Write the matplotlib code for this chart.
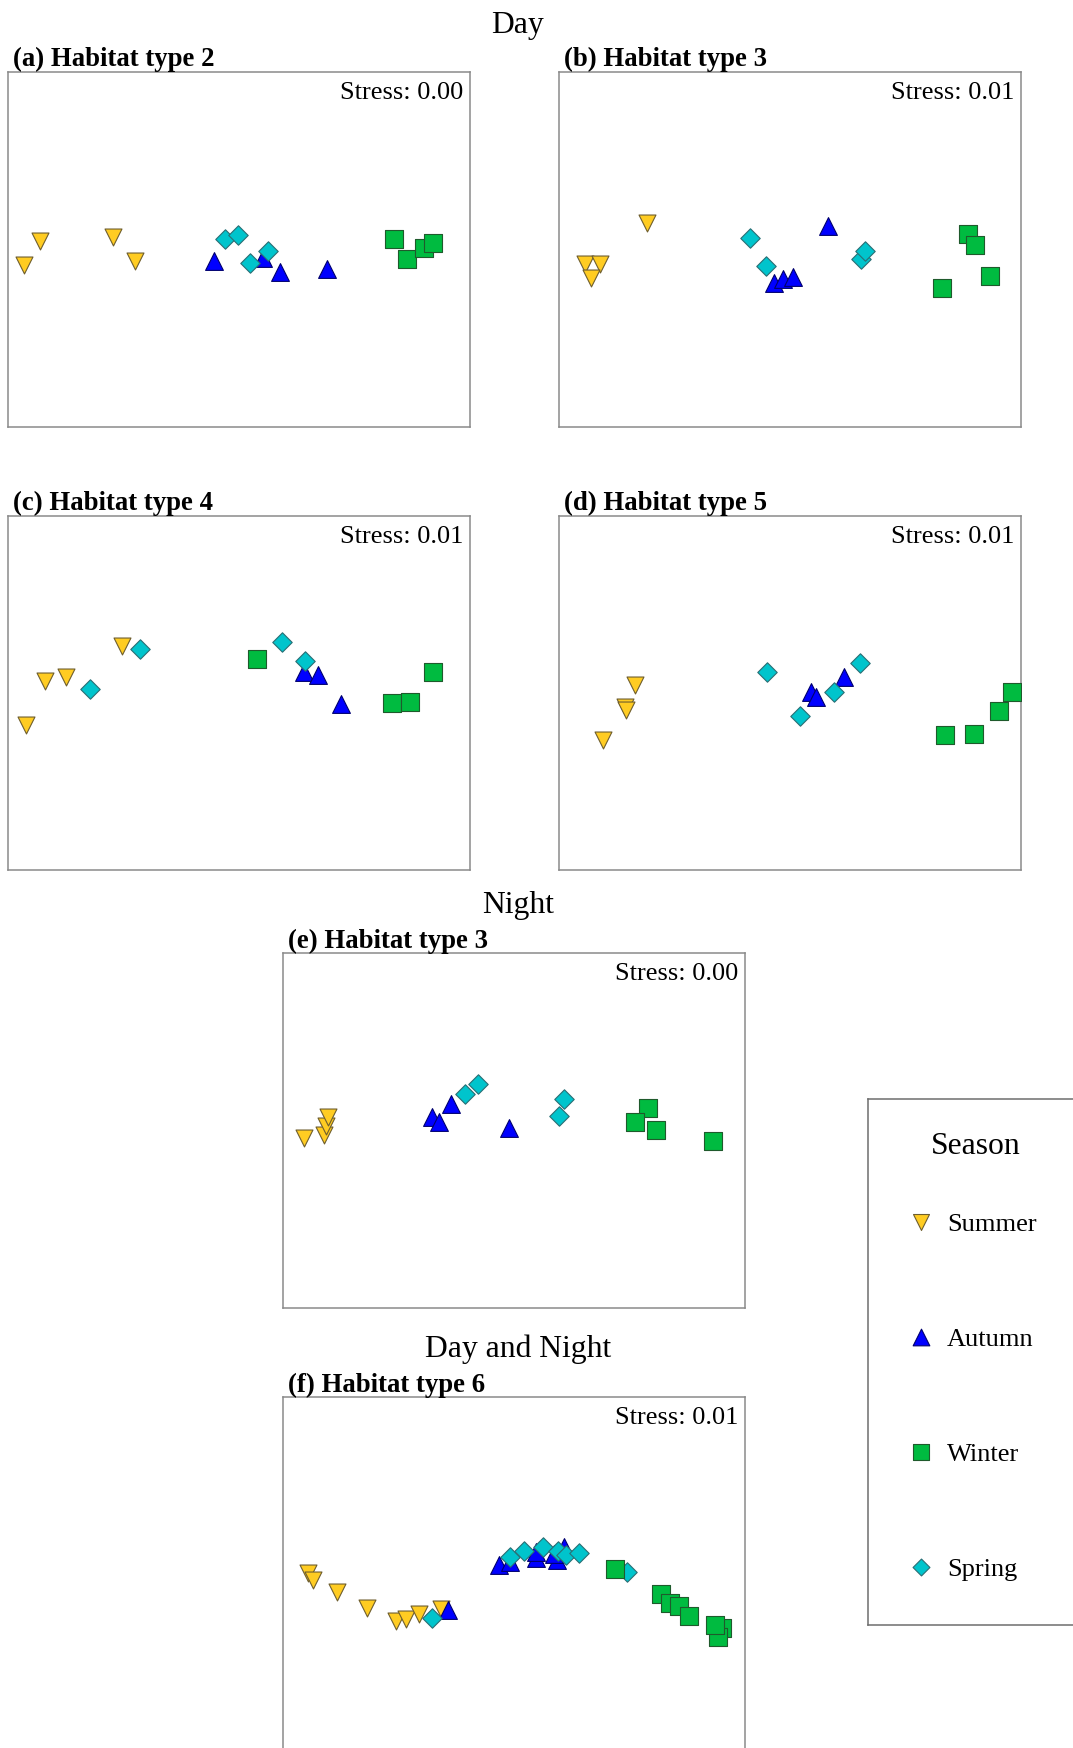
import matplotlib
matplotlib.use("Agg")
import matplotlib.pyplot as plt

plt.rcParams['font.family'] = ['Liberation Serif', 'DejaVu Serif']

W, H = 1073, 1748  # figure size in pixels (dpi 100)

seasons = ["Summer", "Autumn", "Winter", "Spring"]
draw_order = ["Summer", "Autumn", "Spring", "Winter"]
marker = {"Summer": "v", "Autumn": "^", "Winter": "s", "Spring": "D"}
face = {"Summer": "#FFCC22", "Autumn": "#0000FF", "Winter": "#00BB40", "Spring": "#00C4CC"}
edge = {"Summer": "#6E5E2E", "Autumn": "#00006E", "Winter": "#1F5A2C", "Spring": "#2A6E74"}
msize = {"Summer": 12.2, "Autumn": 12.8, "Winter": 13.0, "Spring": 9.9}

# 2-D NMDS coordinates (x list, y list) for each panel and season
a_summer = ([-1.723, -1.859, -1.094, -0.898], [0.074, -0.137, 0.111, -0.097])
a_autumn = ([-0.214, 0.210, 0.352, 0.762], [-0.102, -0.076, -0.195, -0.169])
a_spring = ([-0.121, -0.011, 0.093, 0.251], [0.088, 0.126, -0.114, -0.013])
a_winter = ([1.342, 1.452, 1.602, 1.682], [0.088, -0.082, 0.010, 0.054])

b_summer = ([-1.241, -1.775, -1.645, -1.723], [0.229, -0.126, -0.126, -0.244])
b_autumn = ([0.326, -0.136, -0.063, 0.026], [0.206, -0.287, -0.258, -0.235])
b_spring = ([-0.346, -0.210, 0.612, 0.649], [0.097, -0.140, -0.085, -0.010])
b_winter = ([1.544, 1.602, 1.732, 1.313], [0.132, 0.036, -0.227, -0.336])

c_summer = ([-1.016, -1.682, -1.498, -1.842], [0.407, 0.104, 0.141, -0.277])
c_autumn = ([0.563, 0.687, 0.881], [0.184, 0.156, -0.095])
c_spring = ([-0.855, -1.290, 0.372, 0.569], [0.381, 0.035, 0.442, 0.280])
c_winter = ([0.153, 1.325, 1.478, 1.682], [0.292, -0.089, -0.075, 0.184])

d_summer = ([-1.339, -1.431, -1.417, -1.616], [0.067, -0.121, -0.145, -0.407])
d_autumn = ([0.184, 0.225, 0.465], [0.011, -0.032, 0.136])
d_spring = ([-0.197, 0.609, 0.378, 0.089], [0.184, 0.257, 0.006, -0.197])
d_winter = ([1.345, 1.596, 1.812, 1.922], [-0.366, -0.355, -0.153, 0.006])

e_summer = ([-1.821, -1.648, -1.630, -1.613], [-0.065, -0.042, 0.036, 0.114])
e_autumn = ([-0.707, -0.652, -0.545, -0.046], [0.117, 0.074, 0.232, 0.022])
e_spring = ([-0.424, -0.314, 0.433, 0.390], [0.316, 0.403, 0.273, 0.126])
e_winter = ([1.163, 1.048, 1.229, 1.720], [0.197, 0.076, 0.004, -0.094])

f_summer = ([-1.781, -1.738, -1.532, -1.275, -1.022, -0.935, -0.823, -0.635],
            [0.010, -0.048, -0.152, -0.290, -0.405, -0.383, -0.342, -0.301])
f_autumn = ([-0.569, -0.130, -0.035, 0.188, 0.188, 0.370, 0.346, 0.435],
            [-0.305, 0.085, 0.111, 0.140, 0.195, 0.128, 0.177, 0.238])
f_spring = ([-0.713, -0.035, 0.087, 0.254, 0.378, 0.450, 0.565, 0.976],
            [-0.379, 0.154, 0.206, 0.241, 0.206, 0.169, 0.184, 0.019])
f_winter = ([0.874, 1.275, 1.351, 1.426, 1.518, 1.798, 1.769, 1.743],
            [0.045, -0.171, -0.249, -0.270, -0.357, -0.466, -0.544, -0.437])

panel_titles = ["(a) Habitat type 2", "(b) Habitat type 3", "(c) Habitat type 4",
                "(d) Habitat type 5", "(e) Habitat type 3", "(f) Habitat type 6"]
stress_values = [0.00, 0.01, 0.01, 0.01, 0.00, 0.01]
panel_data = [
    {"Summer": a_summer, "Autumn": a_autumn, "Spring": a_spring, "Winter": a_winter},
    {"Summer": b_summer, "Autumn": b_autumn, "Spring": b_spring, "Winter": b_winter},
    {"Summer": c_summer, "Autumn": c_autumn, "Spring": c_spring, "Winter": c_winter},
    {"Summer": d_summer, "Autumn": d_autumn, "Spring": d_spring, "Winter": d_winter},
    {"Summer": e_summer, "Autumn": e_autumn, "Spring": e_spring, "Winter": e_winter},
    {"Summer": f_summer, "Autumn": f_autumn, "Spring": f_spring, "Winter": f_winter},
]

# panel boxes in pixels: left, top, right, bottom
boxes = [(8, 72, 470, 427), (559, 72, 1021, 427),
         (8, 516, 470, 870), (559, 516, 1021, 870),
         (283, 953, 745, 1308), (283, 1397, 745, 1752)]

SPINE = "#8A8A8A"
TITLE_FS = 22.8
PANEL_FS = 19.3
STRESS_FS = 19
LABEL_FS = 19

fig = plt.figure(figsize=(W / 100, H / 100), dpi=100)
fig.patch.set_facecolor("white")


def add_box_axes(l, t, r, b):
    return fig.add_axes([l / W, 1 - b / H, (r - l) / W, (b - t) / H])


for box, title, stress, data in zip(boxes, panel_titles, stress_values, panel_data):
    ax = add_box_axes(*box)
    ax.set_xlim(-2.0, 2.0)
    ax.set_ylim(-1.537, 1.537)
    ax.set_xticks([])
    ax.set_yticks([])
    for sp in ax.spines.values():
        sp.set_color(SPINE)
        sp.set_linewidth(1.1)
    for s in draw_order:
        xs, ys = data[s]
        ax.scatter(xs, ys, marker=marker[s], s=msize[s] ** 2, c=face[s],
                   edgecolors=edge[s], linewidths=0.8, zorder=3)
    ax.annotate(title, xy=(0, 1), xycoords="axes fraction", xytext=(5, 5.5),
                textcoords="offset pixels", ha="left", va="baseline",
                fontsize=PANEL_FS, fontweight="bold", annotation_clip=False)
    ax.annotate(f"Stress: {stress:.2f}", xy=(1, 1), xycoords="axes fraction",
                xytext=(-7, -27), textcoords="offset pixels", ha="right",
                va="baseline", fontsize=STRESS_FS)

# group headings
fig.text(518 / W, 1 - 32.5 / H, "Day", ha="center", va="baseline", fontsize=TITLE_FS)
fig.text(518 / W, 1 - 913 / H, "Night", ha="center", va="baseline", fontsize=TITLE_FS)
fig.text(518 / W, 1 - 1357 / H, "Day and Night", ha="center", va="baseline",
         fontsize=TITLE_FS)

# legend box (extends past the right edge of the figure)
lg = add_box_axes(868, 1099, 1110, 1625)
lg.set_xlim(868, 1110)
lg.set_ylim(1625, 1099)
lg.set_xticks([])
lg.set_yticks([])
for sp in lg.spines.values():
    sp.set_color("#6E6E6E")
    sp.set_linewidth(1.1)
lg.text(976, 1154, "Season", ha="center", va="baseline", fontsize=TITLE_FS)
legend_size = {"Summer": 11.5, "Autumn": 12.0, "Winter": 12.2, "Spring": 8.6}
for i, s in enumerate(seasons):
    y = 1222 + i * 115
    lg.scatter([921], [y], marker=marker[s], s=legend_size[s] ** 2, c=face[s],
               edgecolors=edge[s], linewidths=0.8, clip_on=False)
    lg.text(947, y + 9, s, ha="left", va="baseline", fontsize=LABEL_FS)

fig.savefig("out.png", dpi=100, facecolor="white")
